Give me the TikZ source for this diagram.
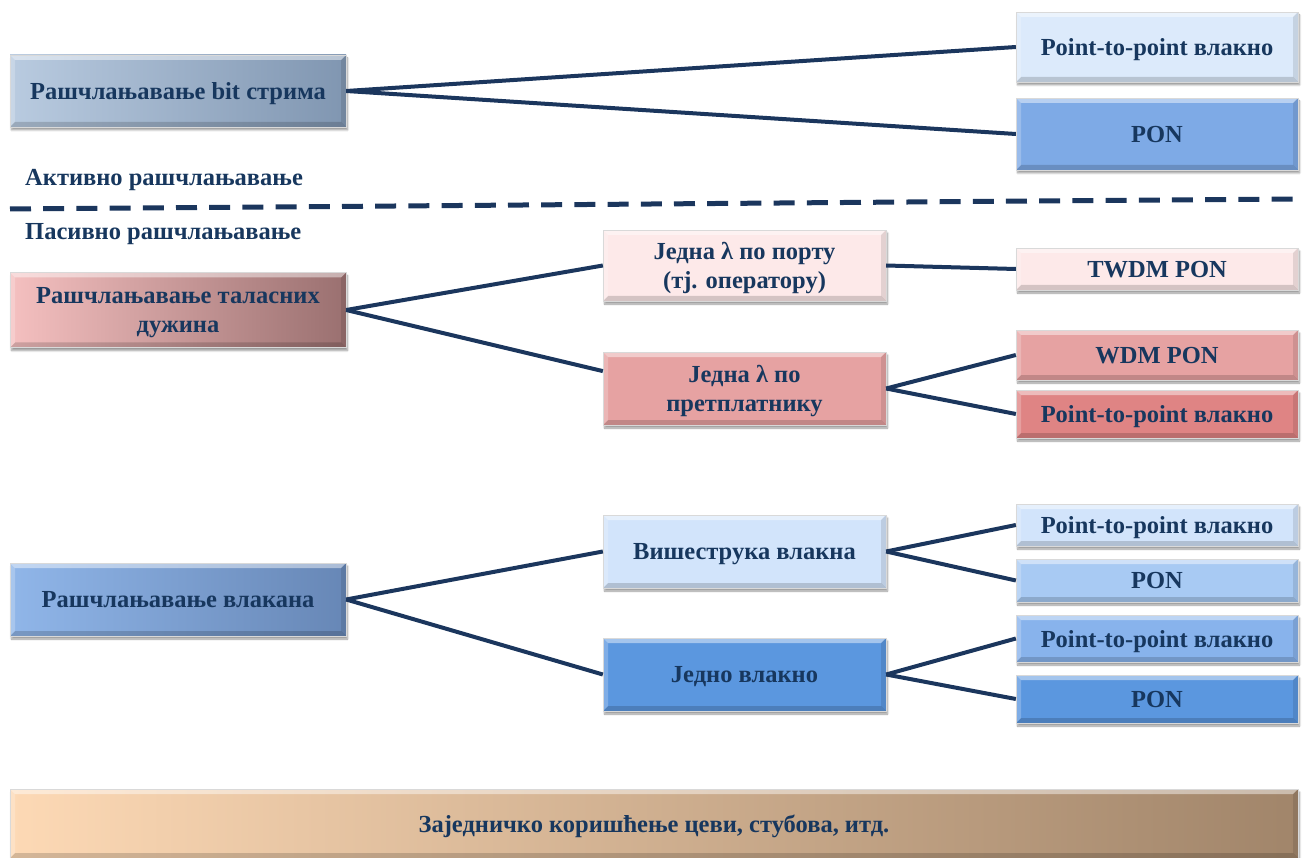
\documentclass[tikz,border=0pt]{standalone}
\usepackage{fontspec}
\setmainfont{Liberation Serif}
\usetikzlibrary{shadows.blur}
\definecolor{txt}{HTML}{17375E}
\definecolor{ln}{HTML}{1B365D}
\definecolor{bitL}{HTML}{B9CBE0}
\definecolor{bitR}{HTML}{8096B1}
\definecolor{cA}{HTML}{DCEAFB}
\definecolor{cB}{HTML}{7EAAE6}
\definecolor{wlL}{HTML}{F5C0C0}
\definecolor{wlR}{HTML}{9A7070}
\definecolor{pinkA}{HTML}{FDE9E9}
\definecolor{pinkB}{HTML}{E6A2A2}
\definecolor{pinkC}{HTML}{DF8484}
\definecolor{fiL}{HTML}{90B6E9}
\definecolor{fiR}{HTML}{6787B6}
\definecolor{blA}{HTML}{D2E4FB}
\definecolor{blB}{HTML}{A8CAF3}
\definecolor{blC}{HTML}{88B3EC}
\definecolor{blD}{HTML}{5B97DF}
\definecolor{btL}{HTML}{FDD9B5}
\definecolor{btM}{HTML}{E5BE9E}
\definecolor{btR}{HTML}{A1856A}
\tikzset{
  bevel/.style={path picture={
    \coordinate (nw) at (path picture bounding box.north west);
    \coordinate (ne) at (path picture bounding box.north east);
    \coordinate (sw) at (path picture bounding box.south west);
    \coordinate (se) at (path picture bounding box.south east);
    \fill[white,opacity=0.45] (nw) -- (ne) -- ([xshift=-5pt,yshift=-5pt]ne) -- ([xshift=5pt,yshift=-5pt]nw) -- cycle;
    \fill[black,opacity=0.16] (sw) -- (se) -- ([xshift=-5pt,yshift=5pt]se) -- ([xshift=5pt,yshift=5pt]sw) -- cycle;
    \fill[black,opacity=0.10] (ne) -- (se) -- ([xshift=-5pt,yshift=5pt]se) -- ([xshift=-5pt,yshift=-5pt]ne) -- cycle;
    \fill[white,opacity=0.22] (nw) -- (sw) -- ([xshift=5pt,yshift=5pt]sw) -- ([xshift=5pt,yshift=-5pt]nw) -- cycle;
  }},
  box/.style={rectangle, inner sep=2pt, align=center,
    font=\bfseries\fontsize{24.5}{29}\selectfont, text=txt,
    text depth=0pt,
    draw=black!15, line width=0.3pt,
    blur shadow={shadow xshift=1.5pt, shadow yshift=-3pt, shadow blur steps=6, shadow opacity=40},
    bevel},
  twoline/.style={text depth=-4pt},
  wbox/.style={box, minimum width=336pt},
  mbox/.style={box, minimum width=283pt},
  rbox/.style={box, minimum width=282pt},
  lbl/.style={inner sep=0pt, font=\bfseries\fontsize{24.5}{29}\selectfont, text=txt},
  conn/.style={draw=ln, line width=4pt}
}
\begin{document}
\begin{tikzpicture}[x=1pt,y=-1pt]
\useasboundingbox (0,0) rectangle (1303,858);
% active splitting
\node[wbox, minimum height=72pt, left color=bitL, right color=bitR] (bit) at (178,91) {Рашчлањавање bit стрима};
\node[rbox, minimum height=70pt, fill=cA] (p2pa) at (1157,47) {Point-to-point влакно};
\node[rbox, minimum height=72pt, fill=cB] (pona) at (1157,134) {PON};
\draw[conn] (bit.east) -- (p2pa.west);
\draw[conn] (bit.east) -- (pona.west);
% labels and divider
\node[lbl, anchor=west] (akt) at (25,180) {Активно рашчлањавање};
\node[lbl, anchor=west] (pas) at (25,234) {Пасивно рашчлањавање};
\coordinate (d1) at (10,209);
\coordinate (d2) at (1293,199);
\draw[ln, line width=5pt, dash pattern=on 21pt off 12.2pt] (d1) -- (d2);
% wavelength splitting
\node[wbox, twoline, minimum height=75pt, left color=wlL, right color=wlR] (wl) at (178,310) {Рашчлањавање таласних\\дужина};
\node[mbox, twoline, minimum height=71pt, fill=pinkA] (port) at (744.5,265.5) {Једна λ по порту\\(тј. оператору)};
\node[rbox, minimum height=42pt, fill=pinkA] (twdm) at (1157,269) {TWDM PON};
\node[mbox, twoline, minimum height=73pt, fill=pinkB] (sub) at (744.5,388.5) {Једна λ по\\претплатнику};
\node[rbox, minimum height=50pt, fill=pinkB] (wdm) at (1157,355) {WDM PON};
\node[rbox, minimum height=48pt, fill=pinkC] (p2pb) at (1157,414) {Point-to-point влакно};
\draw[conn] (wl.east) -- (port.west);
\draw[conn] (wl.east) -- (sub.173.5);
\draw[conn] (port.east) -- (twdm.west);
\draw[conn] (sub.east) -- (wdm.west);
\draw[conn] (sub.east) -- (p2pb.west);
% fibre splitting
\node[wbox, minimum height=73pt, left color=fiL, right color=fiR] (fib) at (178,599.5) {Рашчлањавање влакана};
\node[mbox, minimum height=73pt, fill=blA] (multi) at (744.5,551.5) {Вишеструка влакна};
\node[mbox, minimum height=73pt, fill=blD] (single) at (744.5,674.5) {Једно влакно};
\node[rbox, minimum height=42pt, fill=blA] (p2pc) at (1157,525) {Point-to-point влакно};
\node[rbox, minimum height=43pt, fill=blB] (ponc) at (1157,580.5) {PON};
\node[rbox, minimum height=47pt, fill=blC] (p2pd) at (1157,638.5) {Point-to-point влакно};
\node[rbox, minimum height=48pt, fill=blD] (pond) at (1157,699) {PON};
\draw[conn] (fib.east) -- (multi.west);
\draw[conn] (fib.east) -- (single.west);
\draw[conn] (multi.east) -- (p2pc.west);
\draw[conn] (multi.east) -- (ponc.west);
\draw[conn] (single.east) -- (p2pd.west);
\draw[conn] (single.east) -- (pond.west);
% bottom bar
\node[box, minimum width=1288pt, minimum height=69pt, left color=btL, middle color=btM, right color=btR] (duct) at (654,823.5) {Заједничко коришћење цеви, стубова, итд.};
\end{tikzpicture}
\end{document}
